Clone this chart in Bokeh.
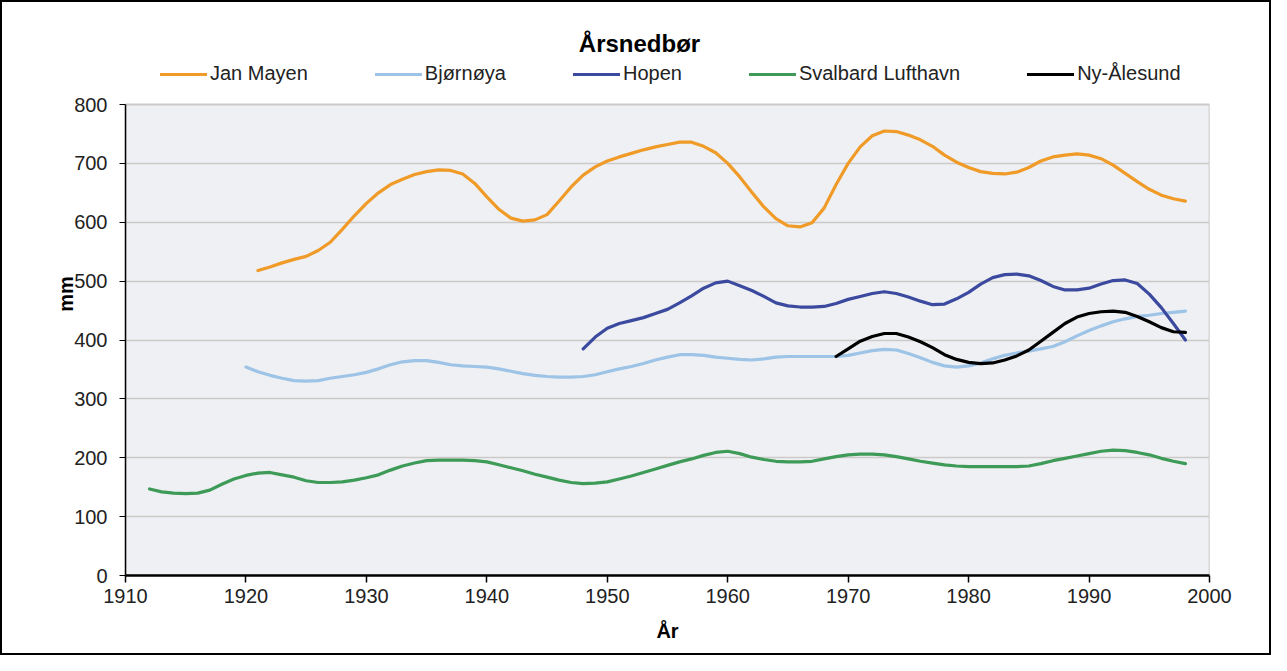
from bokeh.plotting import figure
from bokeh.models import Range1d, FixedTicker, Legend, LegendItem, Label
from bokeh.embed import file_html
from bokeh.resources import INLINE

# ---------------- data ----------------
title_text = "Årsnedbør"
series_names = ["Jan Mayen", "Bjørnøya", "Hopen", "Svalbard Lufthavn", "Ny-Ålesund"]
series_colors = ["#f09a28", "#9dc3e6", "#3b4a9e", "#3d9a57", "#000000"]

years_jan_mayen = list(range(1921, 1999))
jan_mayen = [518, 524, 531, 537, 542, 552, 566, 588, 611, 632,
             650, 664, 673, 681, 686, 689, 688, 682, 666, 643,
             622, 607, 602, 604, 613, 636, 660, 680, 694, 704,
             711, 717, 723, 728, 732, 736, 736, 729, 718, 700,
             677, 651, 626, 606, 594, 592, 599, 624, 664, 700,
             728, 747, 755, 754, 748, 740, 729, 714, 702, 693,
             686, 683, 682, 685, 693, 704, 711, 714, 716, 714,
             708, 697, 683, 669, 656, 646, 640, 636]

years_bjornoya = list(range(1920, 1999))
bjornoya = [354, 346, 340, 335, 331, 330, 331, 335, 338, 341,
            345, 351, 358, 363, 365, 365, 362, 358, 356, 355,
            354, 351, 347, 343, 340, 338, 337, 337, 338, 341,
            346, 351, 355, 360, 366, 371, 375, 375, 374, 371,
            369, 367, 366, 368, 371, 372, 372, 372, 372, 372,
            374, 378, 382, 384, 383, 377, 370, 362, 356, 354,
            356, 361, 368, 374, 378, 381, 385, 389, 397, 407,
            416, 424, 431, 436, 440, 442, 445, 447, 449]

years_hopen = list(range(1948, 1999))
hopen = [385, 405, 420, 428, 433, 438, 445, 452, 463, 475,
         488, 497, 500, 492, 484, 474, 463, 458, 456, 456,
         457, 462, 469, 474, 479, 482, 479, 473, 466, 460,
         461, 470, 481, 495, 506, 511, 512, 509, 501, 491,
         485, 485, 488, 495, 501, 502, 496, 478, 455, 428,
         400]

years_svalbard = list(range(1912, 1999))
svalbard = [147, 142, 140, 139, 140, 145, 155, 164, 170, 174,
            175, 171, 167, 161, 158, 158, 159, 162, 166, 171,
            179, 186, 191, 195, 196, 196, 196, 195, 193, 188,
            183, 178, 172, 167, 162, 158, 156, 157, 159, 164,
            169, 175, 181, 187, 193, 198, 204, 209, 211, 207,
            201, 197, 194, 193, 193, 194, 198, 202, 205, 206,
            206, 205, 202, 198, 194, 191, 188, 186, 185, 185,
            185, 185, 185, 186, 190, 195, 199, 203, 207, 211,
            213, 212, 209, 205, 199, 194, 190]

years_ny_alesund = list(range(1969, 1999))
ny_alesund = [372, 385, 398, 406, 411, 411, 405, 397, 387, 375,
              367, 362, 360, 361, 366, 373, 383, 398, 413, 428,
              439, 445, 448, 449, 447, 440, 431, 421, 414, 413]

x_ticks = [1910, 1920, 1930, 1940, 1950, 1960, 1970, 1980, 1990, 2000]
y_ticks = [0, 100, 200, 300, 400, 500, 600, 700, 800]
x_label = "År"
y_label = "mm"

# ---------------- figure ----------------
FONT = "Liberation Sans"
FRAME_W, FRAME_H = 1084, 563          # plot area 0..800 is 471 px tall
PX_PER_UNIT = 471 / 800
y_top = FRAME_H / PX_PER_UNIT        # room above 800 for title and legend

p = figure(frame_width=FRAME_W, frame_height=FRAME_H, output_backend="svg",
           toolbar_location=None,
           x_range=Range1d(x_ticks[0], x_ticks[-1]), y_range=Range1d(0, y_top),
           min_border_left=123, min_border_right=60,
           min_border_top=10, min_border_bottom=78)
p.styles = {"border": "2px solid black"}
p.background_fill_color = "white"
p.border_fill_color = "white"
p.outline_line_color = None

# grey plot area
p.quad(left=x_ticks[0], right=x_ticks[-1], bottom=y_ticks[0], top=y_ticks[-1],
       fill_color="#eef0f3", line_color="#b9b9b9", line_width=1.5, level="image")

p.xgrid.visible = False
p.ygrid.ticker = FixedTicker(ticks=y_ticks)
p.ygrid.grid_line_color = "#cdc9c9"
p.ygrid.grid_line_width = 1.5

p.xaxis.ticker = FixedTicker(ticks=x_ticks)
p.yaxis.ticker = FixedTicker(ticks=y_ticks)
p.yaxis.bounds = (y_ticks[0], y_ticks[-1])
for ax in (p.xaxis, p.yaxis):
    ax.minor_tick_line_color = None
    ax.major_tick_in = 0
    ax.major_tick_out = 6
    ax.major_tick_line_color = "black"
    ax.axis_line_color = "black"
    ax.major_label_text_font = FONT
    ax.major_label_text_font_size = "20px"
    ax.major_label_text_color = "#222222"
    ax.axis_label_text_font = FONT
    ax.axis_label_text_font_size = "20px"
    ax.axis_label_text_font_style = "bold"
    ax.axis_label_text_color = "black"
p.xaxis.axis_line_width = 2.5
p.xaxis.major_tick_line_width = 1.5
p.xaxis.major_tick_out = 7
p.xaxis.major_label_standoff = 6
p.xaxis.axis_label = x_label
p.xaxis.axis_label_standoff = 14
p.yaxis.axis_line_width = 1.5
p.yaxis.major_label_standoff = 12
p.yaxis.axis_label = y_label
p.yaxis.axis_label_standoff = -6

xs = [years_jan_mayen, years_bjornoya, years_hopen, years_svalbard, years_ny_alesund]
ys = [jan_mayen, bjornoya, hopen, svalbard, ny_alesund]
draw_order = [3, 1, 0, 2, 4]
renderers = {}
for i in draw_order:
    renderers[i] = p.line(xs[i], ys[i], line_color=series_colors[i], line_width=3.2,
                          line_join="round", line_cap="round")

items = [LegendItem(label=series_names[i], renderers=[renderers[i]]) for i in range(5)]
legend = Legend(items=items, orientation="horizontal", location=(35, 490),
                spacing=67, glyph_width=47, glyph_height=22, label_height=22,
                label_standoff=3, padding=0, margin=0,
                background_fill_alpha=0, border_line_alpha=0,
                label_text_font=FONT, label_text_font_size="20px",
                label_text_color="#222222")
p.add_layout(legend)

p.add_layout(Label(x=514, y=532, x_units="screen", y_units="screen", text=title_text,
                   text_font=FONT, text_font_size="24px", text_font_style="bold",
                   text_align="center", text_baseline="middle", text_color="black"))

open("out.html", "w").write(file_html(p, INLINE))
